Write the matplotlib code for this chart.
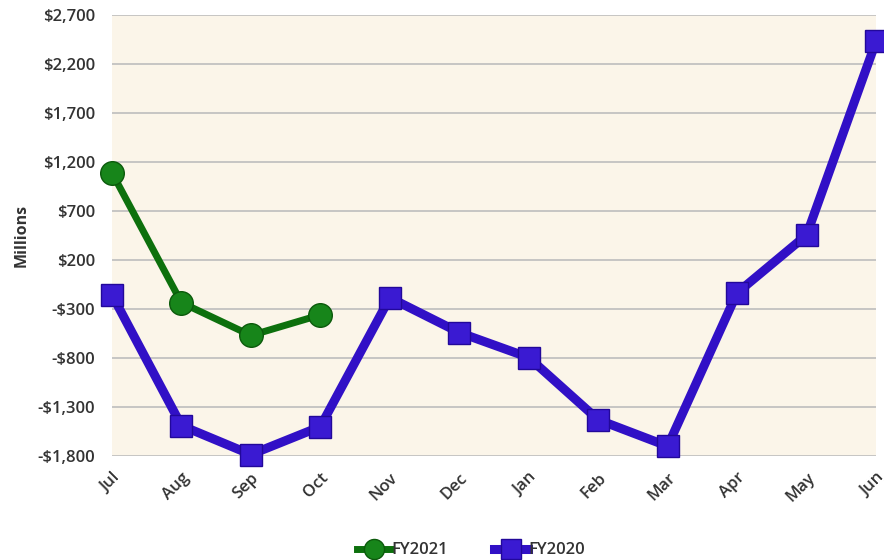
import numpy as np
from matplotlib import pyplot as plt
from matplotlib.ticker import FuncFormatter

months = ['Jul', 'Aug', 'Sep', 'Oct', 'Nov', 'Dec', 'Jan', 'Feb', 'Mar', 'Apr', 'May', 'Jun']
fy2021 = [1090, -235, -570, -360]
fy2020 = [-155, -1490, -1785, -1500, -185, -540, -795, -1430, -1700, -135, 455, 2430]
yticks = [-1800, -1300, -800, -300, 200, 700, 1200, 1700, 2200, 2700]

plt.rcParams['font.family'] = ['Open Sans', 'DejaVu Sans']

fig = plt.figure(figsize=(8.84, 5.6), dpi=100)
ax = fig.add_axes([0.1267, 0.1857, 0.8643, 0.7875])
ax.set_facecolor('#fbf5e9')

x20 = np.arange(len(fy2020))
x21 = np.arange(len(fy2021))
ax.plot(x21, fy2021, color='#0d700d', lw=5, marker='o', ms=17,
        mfc='#17851a', mec='#0b5a0b', mew=1, label='FY2021', zorder=4, clip_on=False)
ax.plot(x20, fy2020, color='#3110c6', lw=6.5, marker='s', ms=16.5,
        mfc='#3a1ad2', mec='#22089a', mew=1, label='FY2020', zorder=3, clip_on=False)

ax.set_xlim(0, 11)
ax.set_ylim(-1800, 2700)
ax.set_yticks(yticks)
ax.yaxis.set_major_formatter(FuncFormatter(lambda v, p: f'${v:,.0f}' if v >= 0 else f'-${-v:,.0f}'))
ax.set_xticks(x20)
ax.set_xticklabels(months, rotation=45, ha='right', rotation_mode='anchor')
ax.tick_params(axis='y', length=0, labelsize=12, labelcolor='#333333', pad=12)
ax.tick_params(axis='x', length=0, labelsize=12, labelcolor='#333333', pad=10)
for lab in ax.get_xticklabels() + ax.get_yticklabels():
    lab.set_fontweight('semibold')
ax.grid(axis='y', color='#bdbdbd', lw=1.2)
ax.set_axisbelow(True)
for s in ax.spines.values():
    s.set_visible(False)
ax.set_ylabel('Millions', fontsize=11.5, fontweight='bold', color='#333333', labelpad=6)

ax.legend(loc='upper center', bbox_to_anchor=(0.47, -0.162), ncol=2, frameon=False,
          fontsize=12, markerscale=0.85, handlelength=2.0, handletextpad=0.05, columnspacing=2.8)
for t in ax.get_legend().get_texts():
    t.set_color('#333333')
    t.set_fontweight('semibold')

fig.savefig('out.png', dpi=100)
